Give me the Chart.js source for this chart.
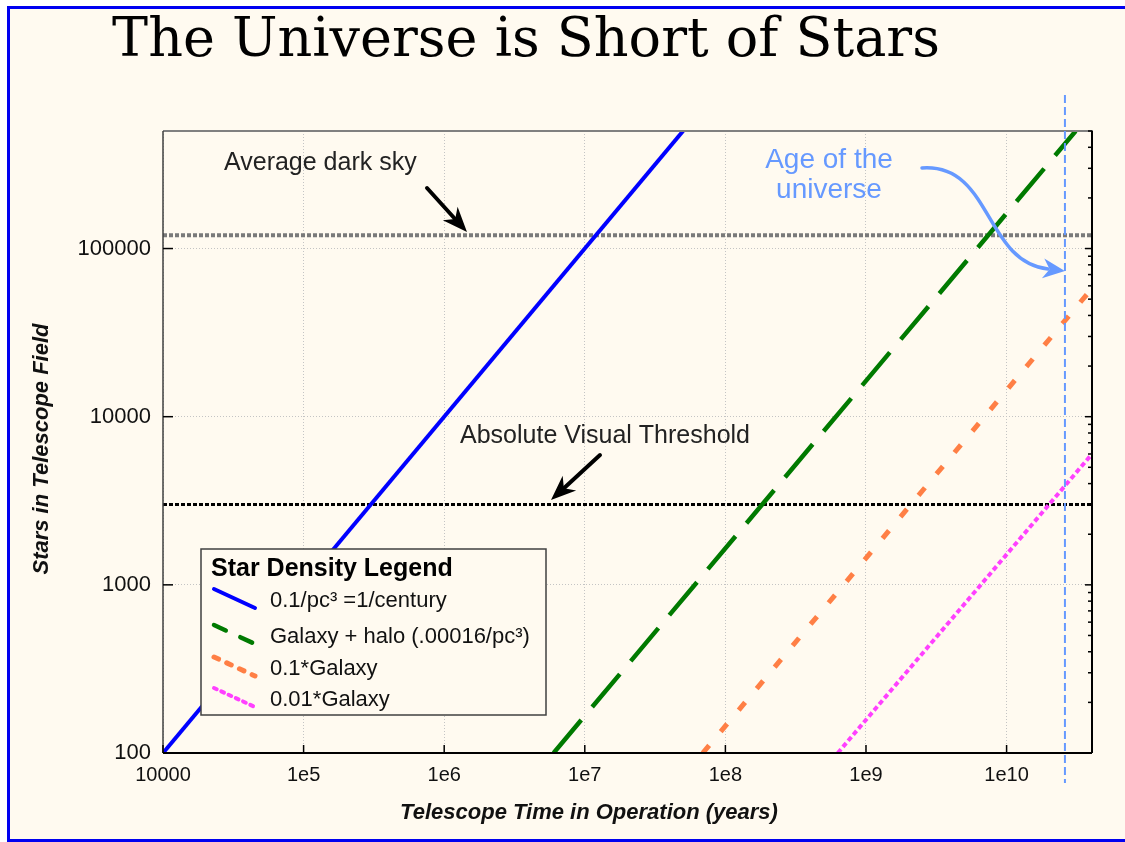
<!DOCTYPE html>
<html>
<head>
<meta charset="utf-8">
<title>The Universe is Short of Stars</title>
<script src="https://cdn.jsdelivr.net/npm/chart.js@4.4.1/dist/chart.umd.min.js"></script>
<style>
  html, body { margin: 0; padding: 0; background: #ffffff; }
  #page { position: relative; width: 1125px; height: 842px; overflow: hidden; }
  #frame {
    position: absolute; left: 7px; top: 6px; width: 1130px; height: 830px;
    border-left: 3px solid #0000f0; border-top: 3px solid #0000f0; border-bottom: 3px solid #0000f0;
    background: #fffaf0;
  }
  #title {
    position: absolute; left: 0; top: 8px; width: 1052px; text-align: center;
    font-family: "DejaVu Serif", "Liberation Serif", serif; font-size: 54px; line-height: 60px;
    color: #000; white-space: nowrap;
  }
  #chart { position: absolute; left: 0; top: 0; }
</style>
</head>
<body>
<div id="page">
  <div id="frame"></div>
  <div id="title">The Universe is Short of Stars</div>
  <canvas id="chart" width="1125" height="842"></canvas>
</div>
<script>
// axes
const xTickValues = [1e4, 1e5, 1e6, 1e7, 1e8, 1e9, 1e10];
const xTickLabels = ["10000", "1e5", "1e6", "1e7", "1e8", "1e9", "1e10"];
const yTickValues = [100, 1000, 10000, 100000];
const yTickLabels = ["100", "1000", "10000", "100000"];
const xMin = 1e4, xMax = 4.05e10;
const yMin = 100, yMax = 5e5;
const xTitle = "Telescope Time in Operation (years)";
const yTitle = "Stars in Telescope Field";

// series (years, stars)
const seriesNames = ["0.1/pc\u00b3 =1/century", "Galaxy + halo (.00016/pc\u00b3)", "0.1*Galaxy", "0.01*Galaxy"];
const centuryYears = [1e4, 5e7];
const centuryStars = [100, 5e5];
const galaxyYears = [6e6, 3.1e10];
const galaxyStars = [100, 5e5];
const tenthYears = [6.9e7, 4.05e10];
const tenthStars = [100, 5.8e4];
const hundredthYears = [6.3e8, 4.05e10];
const hundredthStars = [100, 6000];

// reference levels
const darkSkyStars = 1.2e5;
const thresholdStars = 3000;
const universeAgeYears = 2.6e10;

const sans = "'Liberation Sans', Arial, sans-serif";

function pts(xs, ys) {
    return xs.map((x, i) => ({ x: x, y: ys[i] }));
}

const decor = {
    id: "decor",
    afterDraw(chart) {
        const ctx = chart.ctx;
        const a = chart.chartArea;
        const xs = chart.scales.x;
        const ys = chart.scales.y;

        function line(x1, y1, x2, y2) {
            ctx.beginPath();
            ctx.moveTo(x1, y1);
            ctx.lineTo(x2, y2);
            ctx.stroke();
        }
        function arrowHead(tx, ty, fx, fy, len, half) {
            const ang = Math.atan2(ty - fy, tx - fx);
            const c = Math.cos(ang), s = Math.sin(ang);
            ctx.beginPath();
            ctx.moveTo(tx, ty);
            ctx.lineTo(tx - len * c + half * s, ty - len * s - half * c);
            ctx.lineTo(tx - len * 0.7 * c, ty - len * 0.7 * s);
            ctx.lineTo(tx - len * c - half * s, ty - len * s + half * c);
            ctx.closePath();
            ctx.fill();
        }

        ctx.save();
        ctx.setLineDash([]);

        // plot frame
        ctx.lineWidth = 2;
        ctx.strokeStyle = "#808080";
        line(a.left, a.top, a.right + 1, a.top);
        ctx.strokeStyle = "#404040";
        ctx.lineWidth = 1.5;
        line(a.left, a.top, a.left, a.bottom);
        ctx.strokeStyle = "#000";
        ctx.lineWidth = 2;
        line(a.left, a.bottom, a.right, a.bottom);
        line(a.right, a.top, a.right, a.bottom);

        // tick marks
        ctx.lineWidth = 1.5;
        xTickValues.forEach((v) => {
            const p = xs.getPixelForValue(v);
            line(p, a.bottom, p, a.bottom - 8);
        });
        yTickValues.forEach((v) => {
            const p = ys.getPixelForValue(v);
            line(a.left, p, a.left + 10, p);
        });
        for (let d = 100; d < yMax; d *= 10) {
            for (let m = 1; m <= 9; m++) {
                const v = d * m;
                if (v > yMax) break;
                const p = ys.getPixelForValue(v);
                line(a.right, p, a.right - (m === 1 ? 7 : 4), p);
            }
        }

        // axis titles
        ctx.fillStyle = "#111";
        ctx.font = "italic bold 22px " + sans;
        ctx.textAlign = "center";
        ctx.textBaseline = "alphabetic";
        ctx.fillText(xTitle, 589, 819);
        ctx.save();
        ctx.translate(48, 449);
        ctx.rotate(-Math.PI / 2);
        ctx.fillText(yTitle, 0, 0);
        ctx.restore();

        // age of the universe line
        const ux = xs.getPixelForValue(universeAgeYears);
        ctx.strokeStyle = "#6699ff";
        ctx.lineWidth = 2;
        ctx.setLineDash([8, 4]);
        line(ux, a.top - 36, ux, a.bottom + 30);
        ctx.setLineDash([]);

        // annotations
        ctx.fillStyle = "#222";
        ctx.font = "25px " + sans;
        ctx.textAlign = "left";
        ctx.fillText("Average dark sky", 224, 170);
        ctx.fillText("Absolute Visual Threshold", 460, 443);

        ctx.strokeStyle = "#000";
        ctx.fillStyle = "#000";
        ctx.lineWidth = 4;
        ctx.lineCap = "round";
        line(427, 188, 456, 220);
        arrowHead(467, 232, 427, 188, 25, 10);
        line(600, 455, 562, 490);
        arrowHead(551, 500, 600, 455, 25, 10);

        ctx.fillStyle = "#6699ff";
        ctx.font = "28px " + sans;
        ctx.textAlign = "center";
        ctx.fillText("Age of the", 829, 168);
        ctx.fillText("universe", 829, 198);

        ctx.strokeStyle = "#6699ff";
        ctx.lineWidth = 3.5;
        ctx.beginPath();
        ctx.moveTo(922, 168);
        ctx.bezierCurveTo(992, 163, 984, 262, 1048, 269);
        ctx.stroke();
        arrowHead(ux, 271, 1040, 268, 22, 10);

        // legend box
        const lx = 201, ly = 549, lw = 345, lh = 166;
        ctx.fillStyle = "#fffaf0";
        ctx.fillRect(lx, ly, lw, lh);
        ctx.strokeStyle = "#404040";
        ctx.lineWidth = 1.5;
        ctx.strokeRect(lx, ly, lw, lh);
        ctx.fillStyle = "#000";
        ctx.textAlign = "left";
        ctx.font = "bold 25px " + sans;
        ctx.fillText("Star Density Legend", 211, 576);

        const rowBase = [607, 643, 675, 706];
        ctx.font = "22px " + sans;
        chart.data.datasets.slice(0, 4).forEach((ds, i) => {
            const b = rowBase[i];
            ctx.strokeStyle = ds.borderColor;
            ctx.lineWidth = ds.borderWidth;
            ctx.lineCap = "round";
            ctx.setLineDash(ds.legendDash || []);
            line(214, b - 18, 255, b + 1);
            ctx.setLineDash([]);
            ctx.fillStyle = "#111";
            ctx.fillText(ds.label, 270, b);
        });
        ctx.restore();
    },
};

new Chart(document.getElementById("chart"), {
    type: "scatter",
    data: {
        datasets: [
            {
                label: seriesNames[0],
                data: pts(centuryYears, centuryStars),
                borderColor: "#0000ff",
                borderWidth: 4,
                legendDash: [],
            },
            {
                label: seriesNames[1],
                data: pts(galaxyYears, galaxyStars),
                borderColor: "#007a00",
                borderWidth: 4.5,
                borderDash: [43, 17],
                legendDash: [13, 16],
            },
            {
                label: seriesNames[2],
                data: pts(tenthYears, tenthStars),
                borderColor: "#ff7f45",
                borderWidth: 5,
                borderDash: [10, 18],
                legendDash: [5, 9],
            },
            {
                label: seriesNames[3],
                data: pts(hundredthYears, hundredthStars),
                borderColor: "#ff40ff",
                borderWidth: 4,
                borderDash: [5, 3],
                legendDash: [3, 5],
            },
            {
                label: "Average dark sky",
                data: pts([xMin, xMax], [darkSkyStars, darkSkyStars]),
                borderColor: "#7a7a7a",
                borderWidth: 4,
                borderDash: [4, 2],
            },
            {
                label: "Absolute Visual Threshold",
                data: pts([xMin, xMax], [thresholdStars, thresholdStars]),
                borderColor: "#000000",
                borderWidth: 3,
                borderDash: [4, 2],
            },
        ],
    },
    options: {
        responsive: false,
        animation: false,
        devicePixelRatio: 1,
        showLine: true,
        elements: {
            point: { radius: 0, hoverRadius: 0 },
            line: { tension: 0, borderCapStyle: "butt" },
        },
        layout: {
            padding: { left: 0, top: 131, right: 33, bottom: 0 },
        },
        plugins: {
            legend: { display: false },
            tooltip: { enabled: false },
        },
        scales: {
            x: {
                type: "logarithmic",
                position: "bottom",
                min: xMin,
                max: xMax,
                afterBuildTicks: (s) => {
                    s.ticks = xTickValues.map((v) => ({ value: v }));
                },
                afterFit: (s) => {
                    s.height = 89;
                },
                ticks: {
                    autoSkip: false,
                    maxRotation: 0,
                    padding: 10,
                    color: "#111",
                    font: { family: sans, size: 20 },
                    callback: (v) => xTickLabels[xTickValues.indexOf(v)],
                },
                grid: { color: "#c4c4c4", lineWidth: 1, drawTicks: false },
                border: { display: false, dash: [1, 2] },
            },
            y: {
                type: "logarithmic",
                position: "left",
                min: yMin,
                max: yMax,
                afterBuildTicks: (s) => {
                    s.ticks = yTickValues.map((v) => ({ value: v }));
                },
                afterFit: (s) => {
                    s.width = 163;
                },
                ticks: {
                    padding: 12,
                    color: "#111",
                    font: { family: sans, size: 22 },
                    callback: (v) => yTickLabels[yTickValues.indexOf(v)],
                },
                grid: { color: "#c4c4c4", lineWidth: 1, drawTicks: false },
                border: { display: false, dash: [1, 2] },
            },
        },
    },
    plugins: [decor],
});
</script>
</body>
</html>
